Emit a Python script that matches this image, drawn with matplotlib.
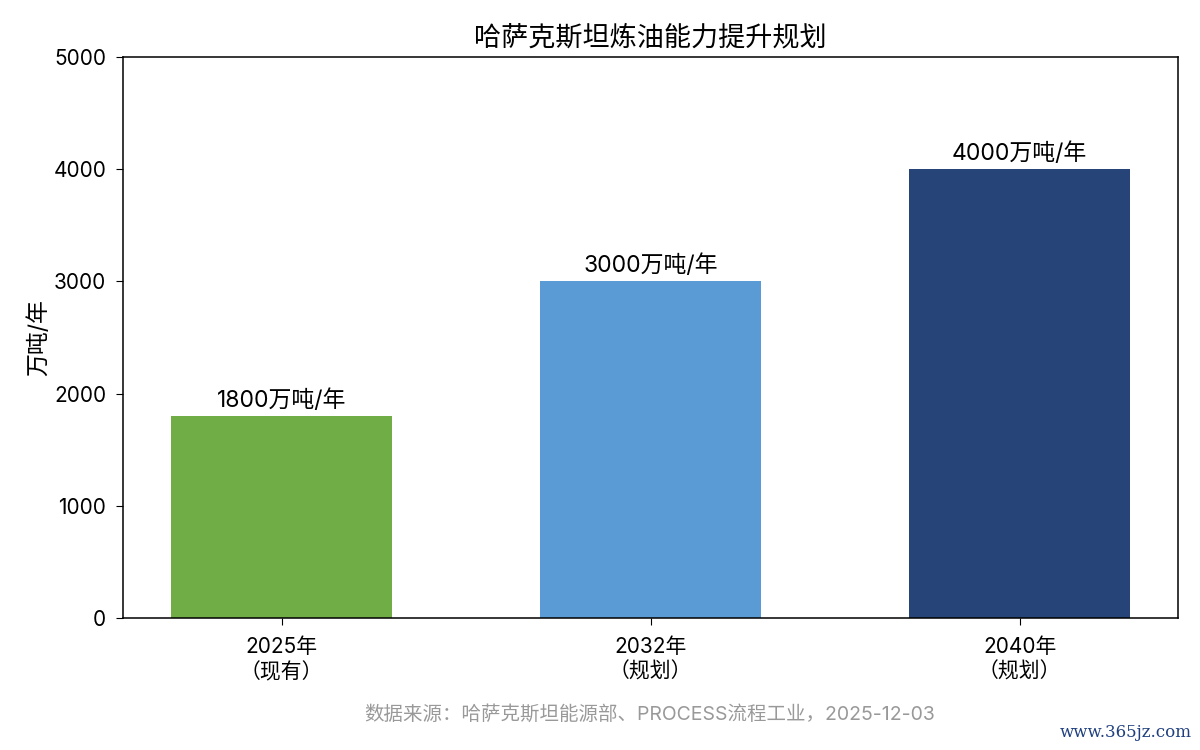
import matplotlib
matplotlib.use('Agg')
import matplotlib.pyplot as plt

plt.rcParams['font.family'] = ['Inter', 'Noto Sans CJK SC', 'DejaVu Sans']
plt.rcParams['axes.unicode_minus'] = False

# 数据
categories = ['2025年\n（现有）', '2032年\n（规划）', '2040年\n（规划）']
capacity = [1800, 3000, 4000]
bar_labels = ['1800万吨/年', '3000万吨/年', '4000万吨/年']
colors = ['#70AD47', '#5B9BD5', '#264478']

fig = plt.figure(figsize=(12, 7.5), dpi=100)
ax = fig.add_axes([0.1025, 0.176, 0.8795, 0.748])

bars = ax.bar(range(len(categories)), capacity, width=0.6, color=colors)
for b, lab in zip(bars, bar_labels):
    ax.text(b.get_x() + b.get_width() / 2, b.get_height() + 40, lab,
            ha='center', va='bottom', fontsize=16.5)

ax.set_xticks(range(len(categories)))
ax.set_xticklabels(categories, fontsize=15, linespacing=1.25)
ax.tick_params(axis='x', pad=9, length=5)
ax.set_ylim(0, 5000)
ax.set_yticks([0, 1000, 2000, 3000, 4000, 5000])
ax.tick_params(axis='y', labelsize=15, pad=7, length=5)
ax.set_ylabel('万吨/年', fontsize=16.5, labelpad=2)
ax.set_title('哈萨克斯坦炼油能力提升规划', fontsize=19.5, pad=8)
for s in ax.spines.values():
    s.set_linewidth(1.1)

fig.text(0.541, 0.048, '数据来源：哈萨克斯坦能源部、PROCESS流程工业，2025-12-03',
         ha='center', va='center', fontsize=14, color='#999999')
fig.text(0.993, 0.012, 'www.365jz.com', ha='right', va='bottom',
         fontsize=12, color='#1F3F7F', family=['DejaVu Serif'])

fig.savefig('out.png', dpi=100)
